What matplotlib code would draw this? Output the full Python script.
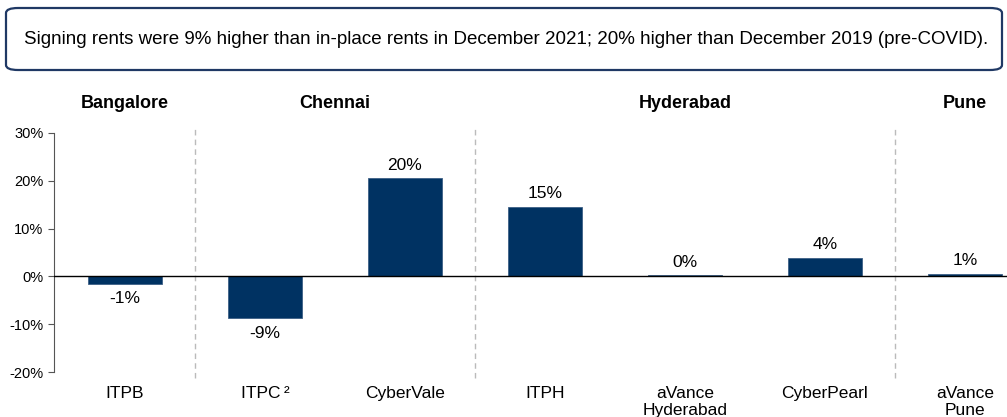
#!/usr/bin/env python3
import matplotlib
import matplotlib.pyplot as plt
from matplotlib.patches import FancyBboxPatch
from matplotlib.ticker import FuncFormatter

matplotlib.use('Agg')
plt.rcParams['font.family'] = ['Liberation Sans', 'DejaVu Sans']

properties = ["ITPB", "ITPC\u2009²", "CyberVale", "ITPH", "aVance\nHyderabad", "CyberPearl", "aVance\nPune"]
values = [-1.5, -8.8, 20.5, 14.6, 0.2, 3.8, 0.6]
value_labels = ["-1%", "-9%", "20%", "15%", "0%", "4%", "1%"]
cities = ["Bangalore", "Chennai", "Hyderabad", "Pune"]
city_pos = [0, 1.5, 4, 6.0]
dividers = [0.5, 2.5, 5.5]
headline = "Signing rents were 9% higher than in-place rents in December 2021; 20% higher than December 2019 (pre-COVID)."

bar_color = "#003262"
W, H = 1007, 417

fig = plt.figure(figsize=(W / 100, H / 100), dpi=100)

# headline box
box = FancyBboxPatch((6 / W, (H - 70) / H), 996 / W, 62 / H,
                     boxstyle="round,pad=0,rounding_size=0.012",
                     transform=fig.transFigure, facecolor="white",
                     edgecolor="#1f3864", linewidth=1.6)
fig.patches.append(box)
fig.text(506 / W, (H - 40) / H, headline, ha="center", va="center", fontsize=13.5)

ax = fig.add_axes([54 / W, 45 / H, 981 / W, 239 / H])
x = list(range(len(properties)))
ax.bar(x, values, width=0.53, color=bar_color, edgecolor="#3d5f85", linewidth=0.6, zorder=3)
ax.axhline(0, color="black", linewidth=1, zorder=4)

for xi, v, lab in zip(x, values, value_labels):
    if v >= 0:
        ax.text(xi, v + 1.2, lab, ha="center", va="bottom", fontsize=12.5)
    else:
        ax.text(xi, v - 1.5, lab, ha="center", va="top", fontsize=12.5)

for d in dividers:
    ax.plot([d, d], [-21.2, 31], color="#bbbbbb", linestyle=(0, (4, 3)),
            linewidth=1, clip_on=False)

for c, p in zip(cities, city_pos):
    ax.text(p, 36.2, c, ha="center", va="center", fontsize=13, fontweight="bold")

ax.set_xlim(-0.507, 6.5)
ax.set_ylim(-20, 30)
ax.set_yticks([-20, -10, 0, 10, 20, 30])
ax.yaxis.set_major_formatter(FuncFormatter(lambda v, p: f"{v:.0f}%"))
ax.tick_params(axis="y", labelsize=10.5, length=4, color="#555555")
ax.set_xticks(x)
ax.set_xticklabels(properties, fontsize=12.5, va="top")
ax.tick_params(axis="x", length=0, pad=10)
for s in ["top", "right", "bottom"]:
    ax.spines[s].set_visible(False)
ax.spines["left"].set_color("#555555")

fig.savefig("out.png", dpi=100)
